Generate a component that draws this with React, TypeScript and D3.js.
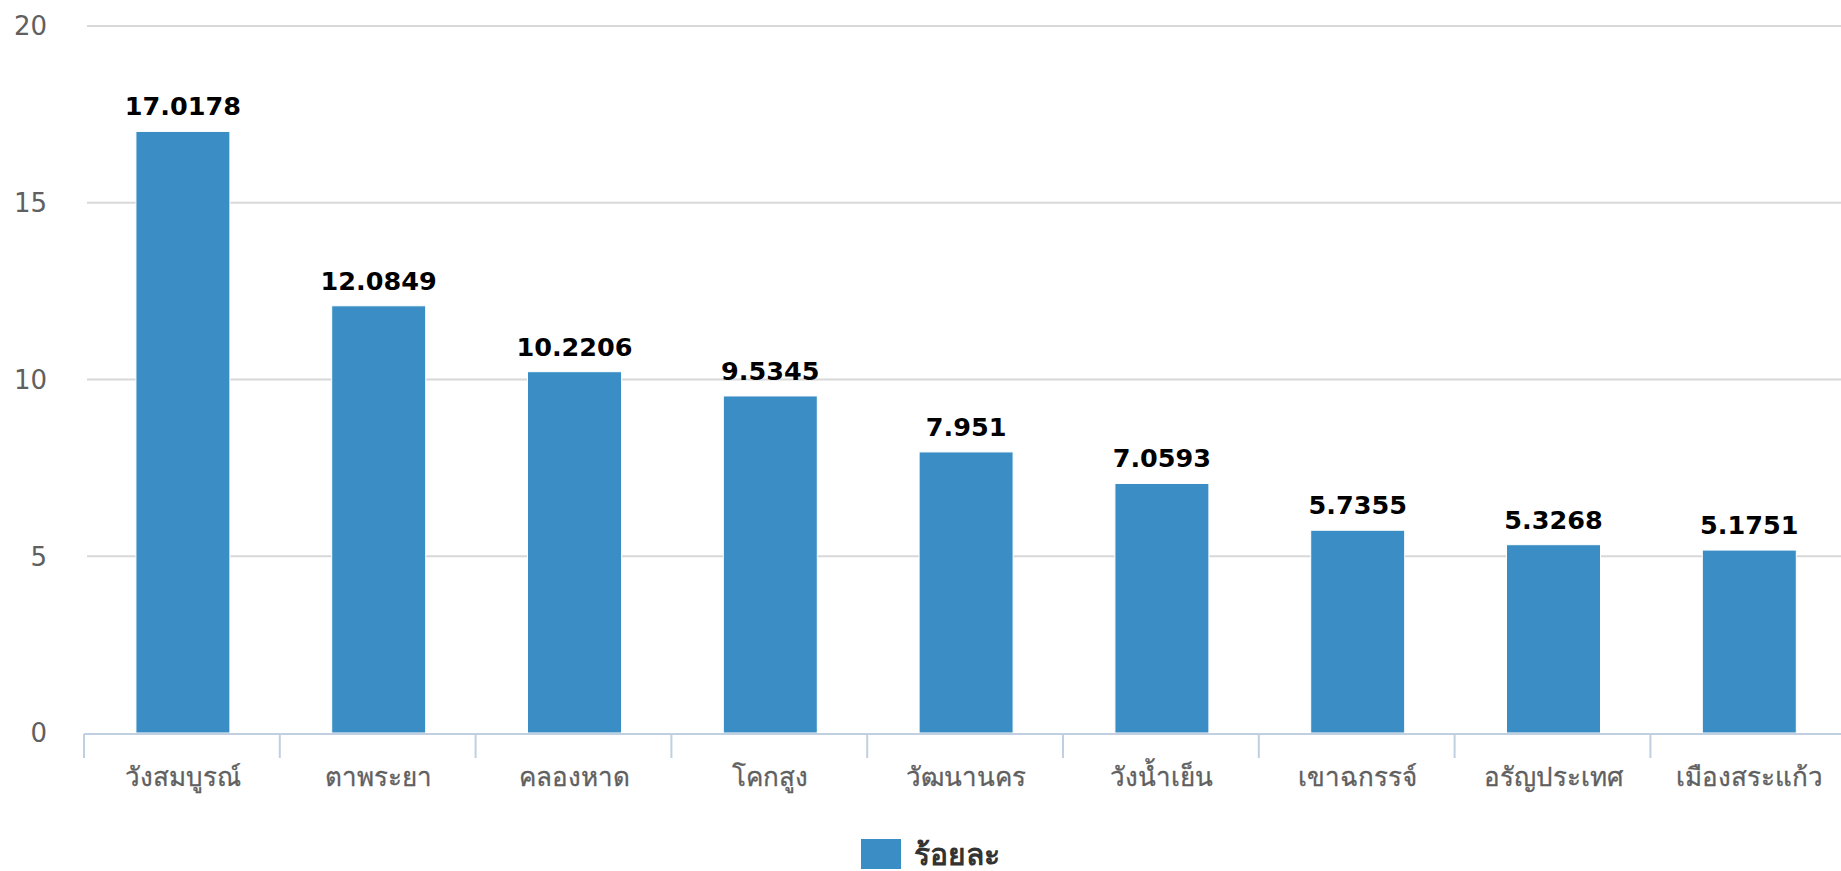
import React from "react";
import * as d3 from "d3";

const categories = ["วังสมบูรณ์", "ตาพระยา", "คลองหาด", "โคกสูง", "วัฒนานคร", "วังน้ำเย็น", "เขาฉกรรจ์", "อรัญประเทศ", "เมืองสระแก้ว"];
const values = [17.0178, 12.0849, 10.2206, 9.5345, 7.951, 7.0593, 5.7355, 5.3268, 5.1751];
const valueLabels = ["17.0178", "12.0849", "10.2206", "9.5345", "7.951", "7.0593", "5.7355", "5.3268", "5.1751"];
const yTicks = [0, 5, 10, 15, 20];
const seriesName = "ร้อยละ";

const W = 1841;
const H = 871;
const FONT = "'DejaVu Sans', 'Noto Sans', sans-serif";

export default function App() {
  const x = d3.scaleBand<string>().domain(categories).range([85, 85 + 9 * 195.8]).paddingInner(0.52).paddingOuter(0.26);
  const y = d3.scaleLinear().domain([0, 20]).range([733, 26]);
  const bw = x.bandwidth();
  const step = x.step();
  const left = 85;
  return (
    <svg width={W} height={H} style={{ position: "absolute", left: 0, top: 0, background: "#fff" }}>
      {yTicks.filter((t) => t > 0).map((t) => (
        <line key={"g" + t} x1={87} x2={W} y1={y(t)} y2={y(t)} stroke="#d8d8d8" strokeWidth={2} />
      ))}
      {yTicks.map((t) => (
        <text key={"yl" + t} x={47} y={y(t)} dy="0.36em" textAnchor="end" fontFamily={FONT} fontSize={26} fill="#606060">
          {t}
        </text>
      ))}
      {categories.map((c, i) => (
        <g key={c}>
          <rect x={x(c)} y={y(values[i])} width={bw} height={y(0) - y(values[i])} fill="#3a8ec5" stroke="#ffffff" strokeWidth={1} />
          <text x={(x(c) as number) + bw / 2} y={y(values[i]) - 16} textAnchor="middle" fontFamily={FONT} fontWeight="bold" fontSize={25.5} fill="#000">
            {valueLabels[i]}
          </text>
          <text x={(x(c) as number) + bw / 2} y={786} textAnchor="middle" fontFamily={FONT} fontSize={26} fill="#606060" stroke="#606060" strokeWidth={0.3}>
            {c}
          </text>
        </g>
      ))}
      <line x1={84} x2={W} y1={734} y2={734} stroke="#c0d0e0" strokeWidth={2} />
      {d3.range(categories.length + 1).map((i) => (
        <line key={"t" + i} x1={left + i * step - 1} x2={left + i * step - 1} y1={734} y2={758} stroke="#c0d0e0" strokeWidth={2} />
      ))}
      <rect x={861} y={839} width={40} height={30} fill="#3a8ec5" />
      <text x={914} y={865} fontFamily={FONT} fontWeight="bold" fontSize={30} fill="#333">
        {seriesName}
      </text>
    </svg>
  );
}
